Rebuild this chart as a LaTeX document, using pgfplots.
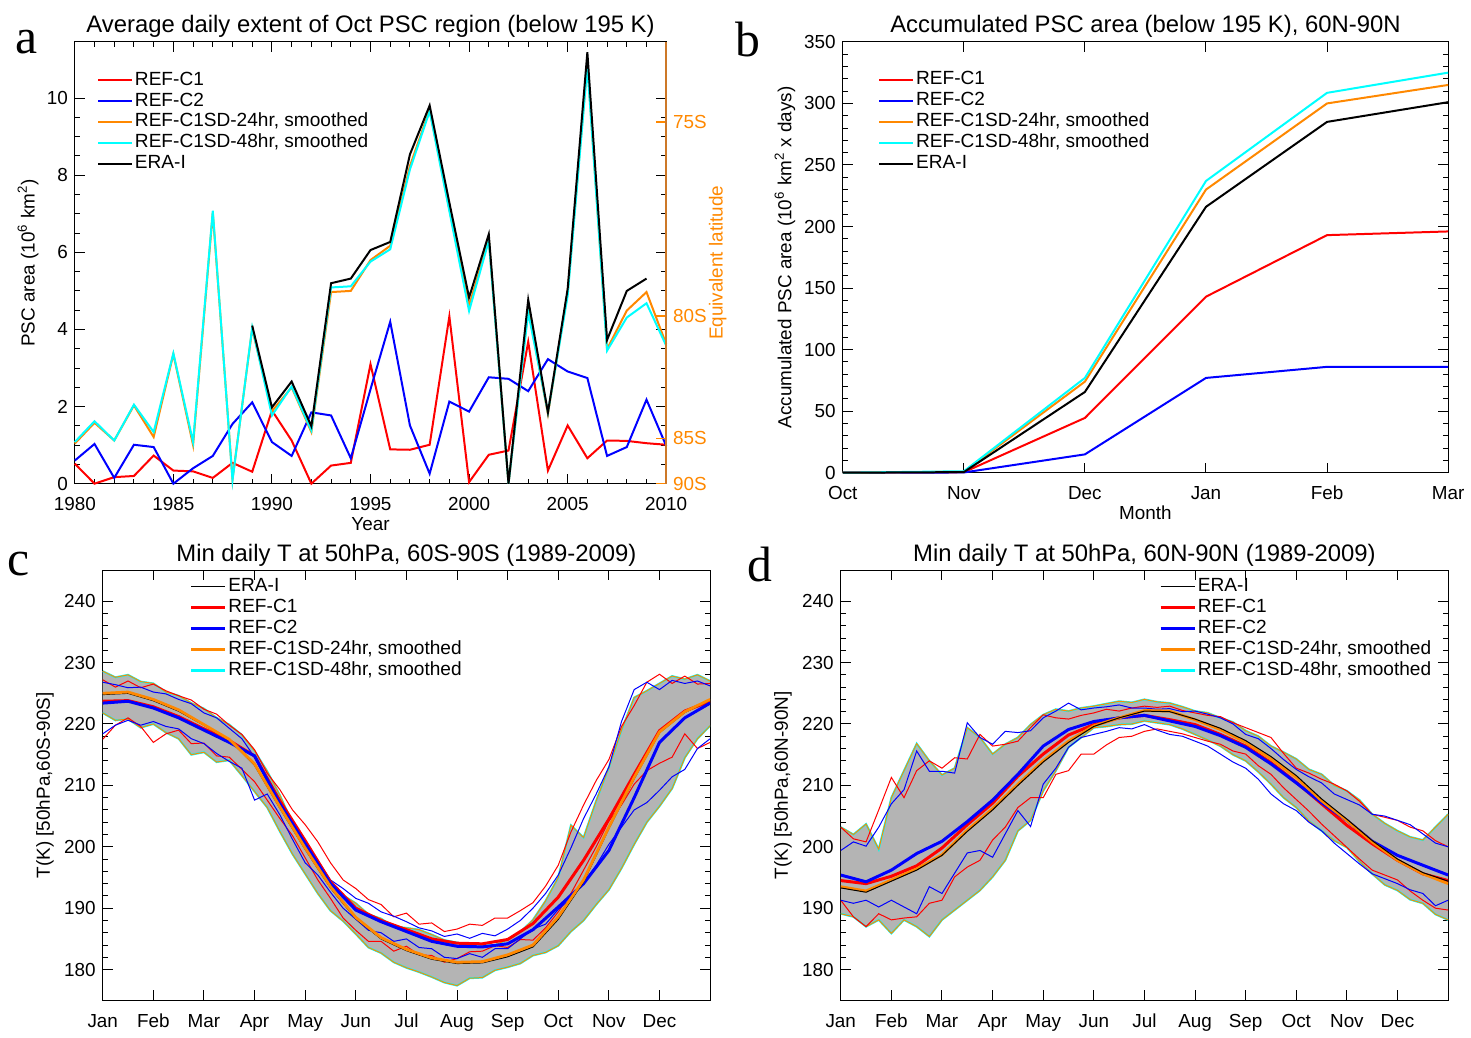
\documentclass[border=0pt]{standalone}
\usepackage{fontspec}
\setmainfont{Liberation Sans}
\newfontfamily\letterfont{Liberation Serif}
\usepackage{pgfplots}
\usepackage{pgfplotstable}
\pgfplotsset{compat=1.18}
\usepgfplotslibrary{fillbetween}

\definecolor{cred}{RGB}{255,0,0}
\definecolor{cblue}{RGB}{0,0,255}
\definecolor{corange}{RGB}{255,136,0}
\definecolor{ccyan}{RGB}{0,255,255}
\definecolor{cgray}{RGB}{180,180,180}
\definecolor{cspine}{RGB}{205,120,40}

\pgfplotstableread{
yr c1 c2 sd24 sd48 era
1980 0.52 0.60 1.04 1.08 nan
1981 0.00 1.03 1.58 1.62 nan
1982 0.17 0.15 1.12 1.12 nan
1983 0.20 1.01 2.03 2.05 nan
1984 0.73 0.95 1.21 1.34 nan
1985 0.34 0.00 3.36 3.38 nan
1986 0.32 0.40 1.00 1.08 nan
1987 0.15 0.72 7.03 7.08 nan
1988 0.54 1.55 0.12 0.09 nan
1989 0.31 2.11 4.02 4.05 4.10
1990 1.90 1.08 1.88 1.77 1.98
1991 1.12 0.72 2.50 2.52 2.65
1992 0.00 1.85 1.34 1.38 1.49
1993 0.47 1.77 4.97 5.09 5.20
1994 0.54 0.66 5.00 5.12 5.32
1995 3.10 2.45 5.80 5.76 6.06
1996 0.89 4.20 6.17 6.08 6.27
1997 0.88 1.51 8.24 8.15 8.54
1998 1.01 0.26 9.70 9.66 9.81
1999 4.34 2.13 7.12 7.07 7.29
2000 0.04 1.87 4.61 4.48 4.83
2001 0.75 2.76 6.34 6.30 6.47
2002 0.86 2.72 0.00 0.00 0.00
2003 3.68 2.40 4.53 4.44 4.77
2004 0.34 3.23 1.81 1.85 1.85
2005 1.51 2.91 4.97 4.87 5.05
2006 0.66 2.74 10.91 10.82 11.19
2007 1.12 0.72 3.49 3.45 3.73
2008 1.11 0.95 4.49 4.31 5.00
2009 1.05 2.18 4.97 4.68 5.32
2010 1.01 0.98 3.62 3.58 nan
}\aData

\pgfplotstableread{
m c1 c2 sd24 sd48 era
0 0 0 0 0 0
1 0.4 0.2 0.8 1.2 0.5
2 44.5 14.9 74 77 65.6
3 143 77 230 237 216
4 193 86 300 308.6 285
5 196 86 315 325 301
}\bData

\pgfplotstableread{
m sdU sdL rU rL bU bL
0 228.6 221.8 227.2 217.5 226.8 218.4
0.25 227.6 220.6 226.0 219.8 226.4 219.8
0.5 228.0 220.8 227.0 221.0 225.9 220.6
0.75 226.9 219.4 225.9 219.6 226.0 219.8
1 226.6 220.0 226.5 217.0 225.2 220.4
1.25 225.2 218.6 225.4 218.4 224.9 219.6
1.5 224.6 217.6 224.6 219.0 224.0 219.2
1.75 223.4 215.0 223.9 216.8 223.3 217.6
2 222.5 215.4 222.4 216.9 221.8 216.8
2.25 221.0 213.8 221.6 214.8 221.0 215.2
2.5 219.9 214.1 219.8 214.6 219.3 213.9
2.75 218.2 211.6 218.3 212.6 217.6 212.8
3 215.6 209.0 215.8 210.6 214.6 207.6
3.25 212.3 206.4 212.0 207.6 210.6 208.6
3.5 208.4 202.5 209.3 204.6 207.2 205.2
3.75 203.8 198.8 206.0 201.8 203.2 201.2
4 200.6 195.6 203.6 198.2 200.6 197.4
4.25 197.0 192.4 200.8 194.6 197.8 195.4
4.5 194.2 189.6 197.4 191.6 194.6 192.6
4.75 192.1 187.9 194.6 188.4 193.2 190.0
5 190.8 185.8 193.2 186.4 191.6 188.2
5.25 189.0 183.6 191.4 184.6 190.8 186.4
5.5 188.3 182.7 190.6 184.6 189.4 186.0
5.75 187.0 181.2 188.6 183.0 188.7 184.6
6 186.8 180.3 189.2 183.8 187.8 185.0
6.25 186.5 179.6 187.4 182.4 186.8 183.6
6.5 185.7 178.8 187.6 182.3 186.3 183.4
6.75 184.8 177.9 186.2 181.2 185.4 182.0
7 184.4 177.4 186.6 181.8 185.8 181.8
7.25 183.6 178.6 187.4 182.9 185.1 182.6
7.5 183.9 178.7 187.2 183.0 185.9 182.0
7.75 184.0 179.9 188.4 183.9 185.5 183.4
8 184.9 180.4 188.4 183.6 186.6 183.4
8.25 186.1 181.0 189.6 184.9 188.0 185.0
8.5 188.1 182.3 190.9 184.8 190.0 186.6
8.75 191.2 182.8 193.6 186.8 192.4 187.4
9 195.0 183.9 197.0 189.4 195.4 189.8
9.25 203.5 186.2 202.4 192.4 199.8 191.6
9.5 201.5 188.0 206.8 196.2 204.6 194.2
9.75 207.5 190.6 210.8 200.0 208.6 197.0
10 212.9 193.0 214.2 204.2 213.0 200.4
10.25 219.0 196.5 219.6 206.8 220.4 203.2
10.5 224.3 200.4 223.0 210.2 225.6 206.0
10.75 225.4 204.0 226.8 212.4 226.8 207.2
11 226.6 206.6 228.1 213.6 225.6 209.2
11.25 227.8 209.5 226.6 214.6 227.1 211.4
11.5 227.3 214.5 227.8 218.4 226.6 212.6
11.75 228.0 217.6 226.5 216.0 227.0 216.0
12 227.0 219.7 226.6 217.0 226.2 217.6
}\cEnv

\pgfplotstableread{
m sd era r b
0 225.0 224.8 223.7 223.4
0.5 225.2 225.0 223.8 223.7
1 224.0 223.8 222.8 222.6
1.5 222.3 222.1 221.2 221.0
2 219.9 219.8 219.2 219.0
2.5 217.5 217.4 217.3 217.0
3 213.5 213.3 214.8 214.8
3.5 206.5 206.3 207.5 207.0
4 199.8 199.6 201.0 200.5
4.5 193.5 193.3 194.3 194.0
5 188.5 188.3 190.0 189.7
5.5 185.2 185.0 188.0 187.8
6 183.3 183.1 186.5 186.2
6.5 181.9 181.7 185.0 184.6
7 181.2 181.0 184.3 183.8
7.5 181.3 181.1 184.2 183.7
8 182.4 182.1 184.9 184.2
8.5 184.0 183.7 187.5 186.5
9 188.6 188.2 191.8 190.2
9.5 194.6 194.3 197.8 194.0
10 203.2 203.0 204.5 199.4
10.5 211.3 211.1 211.8 208.0
11 218.7 218.6 218.9 217.0
11.5 222.0 221.9 222.1 221.0
12 224.0 223.9 223.7 223.4
}\cMean

\pgfplotstableread{
m sdU sdL rU rL bU bL
0 203.2 189.1 203.2 191.3 199.4 191.3
0.25 202.0 188.6 201.3 188.6 200.8 190.8
0.5 203.7 187.0 200.8 187.0 200.1 191.3
0.75 199.6 188.1 206.0 189.1 203.2 190.2
1 208.0 185.9 211.3 188.1 207.0 191.3
1.25 212.4 188.1 208.0 188.4 209.3 190.2
1.5 216.8 187.0 212.4 188.6 215.6 189.1
1.75 214.0 185.4 214.0 190.8 212.3 193.5
2 211.7 188.1 212.8 191.3 212.3 192.4
2.25 212.8 189.7 214.5 195.1 212.0 195.7
2.5 219.4 191.3 214.3 196.7 220.2 199.0
2.75 217.8 192.9 218.3 197.8 217.8 199.4
3 215.1 195.1 216.4 201.1 216.7 198.3
3.25 216.7 197.8 216.7 203.2 218.8 202.1
3.5 217.8 202.6 217.2 206.4 218.6 205.9
3.75 219.9 204.3 219.4 208.0 218.9 203.3
4 221.5 209.1 221.5 208.0 221.0 210.2
4.25 222.4 212.4 221.0 211.8 222.1 212.8
4.5 222.1 216.2 220.8 212.4 223.4 216.2
4.75 222.6 217.8 221.4 215.1 222.3 217.8
5 222.9 219.4 221.8 215.1 222.6 218.3
5.25 223.3 219.6 222.4 216.6 222.8 218.8
5.5 223.7 219.9 222.1 217.8 223.1 219.4
5.75 223.5 220.0 222.6 218.0 222.6 219.2
6 224.0 220.5 222.9 218.8 222.6 219.9
6.25 223.6 220.2 222.7 219.2 222.4 219.0
6.5 223.4 219.9 222.9 218.8 222.5 218.3
6.75 222.8 219.2 222.2 218.4 222.0 218.0
7 222.1 218.3 221.8 217.8 222.1 217.2
7.25 221.8 217.4 221.4 217.2 221.6 216.4
7.5 221.0 216.4 221.2 216.7 221.0 215.1
7.75 220.3 215.0 220.2 215.6 220.0 213.8
8 218.9 214.0 219.4 215.1 218.3 212.8
8.25 218.0 212.2 218.6 213.2 217.6 211.0
8.5 216.4 210.2 217.8 211.8 216.0 208.6
8.75 215.4 208.0 215.2 209.6 214.2 207.0
9 214.3 206.4 212.8 207.7 212.6 205.9
9.25 212.6 204.2 212.0 205.8 211.4 204.0
9.5 211.8 202.6 211.0 203.7 210.4 202.6
9.75 210.0 201.0 210.2 201.8 208.6 200.6
10 209.1 199.9 209.1 199.9 207.7 198.9
10.25 207.6 197.6 207.4 198.0 206.8 197.2
10.5 205.3 195.6 205.3 196.2 205.3 195.6
10.75 203.8 193.8 204.8 195.4 205.0 194.8
11 202.6 192.9 204.3 194.6 204.3 194.0
11.25 201.6 191.4 203.2 192.8 203.6 193.0
11.5 201.1 190.8 202.6 191.3 202.1 192.4
11.75 203.2 189.0 201.0 190.0 200.6 190.4
12 205.3 188.1 200.0 189.7 200.0 191.3
}\dEnv

\pgfplotstableread{
m sd era r b
0 193.5 193.3 194.5 195.4
0.5 192.8 192.6 194.0 194.3
1 194.6 194.4 195.2 196.2
1.5 196.4 196.2 196.9 198.9
2 198.7 198.6 199.8 200.9
2.5 202.7 202.5 203.6 204.1
3 206.2 206.0 207.1 207.6
3.5 210.2 210.0 211.5 211.8
4 214.0 213.8 215.1 216.4
4.5 217.2 217.0 218.2 219.1
5 219.7 219.6 219.9 220.4
5.5 221.0 221.0 221.0 221.0
6 222.2 222.1 221.4 221.4
6.5 222.1 222.0 220.7 220.5
7 220.7 220.8 219.9 219.6
7.5 219.1 219.3 218.3 218.1
8 217.0 217.3 216.4 216.2
8.5 214.3 214.7 213.7 213.5
9 211.3 211.6 210.5 210.4
9.5 207.5 207.8 207.0 207.2
10 204.3 204.5 203.5 204.3
10.5 200.8 201.0 200.5 200.9
11 197.8 198.0 197.8 198.6
11.5 195.6 195.8 195.6 197.0
12 194.0 194.4 194.5 195.4
}\dMean

\pgfplotsset{
  common/.style={
    scale only axis, anchor=south west,
    /pgf/number format/assume math mode=true,
    /pgf/number format/1000 sep={},
    tick label style={font=\fontsize{9.5}{11}\selectfont},
    xticklabel style={anchor=base, yshift=-13.5bp},
    label style={font=\fontsize{9.5}{11}\selectfont},
    every axis title/.style={at={(0.5,1)}, anchor=base, yshift=4.7bp, font=\fontsize{12}{14}\selectfont},
    xlabel style={at={(axis description cs:0.5,0)}, anchor=base, yshift=-23.5bp},
    tick align=inside,
    major tick length=5bp, minor tick length=2.5bp,
    tick style={black, line width=0.5bp},
    axis line style={line width=0.6bp},
    legend style={draw=none, fill=none, font=\fontsize{9.6}{10.5}\selectfont,
      anchor=north west, inner sep=0pt, row sep=0.5bp, column sep=1bp,
      nodes={inner sep=0pt, text height=7.5bp, text depth=2.5bp}},
    legend cell align=left,
  }
}

\begin{document}
\begin{tikzpicture}

% ---------------- panel a
\begin{axis}[common, clip=false, at={(37.5bp,274bp)}, width=296.5bp, height=221.5bp,
  xmin=1980, xmax=2010, ymin=0, ymax=11.46,
  xtick={1980,1985,...,2010}, minor x tick num=4,
  ytick={0,2,...,10}, minor y tick num=3,
  xlabel={Year},
  ylabel={PSC area (10\textsuperscript{6} km\textsuperscript{2})},
  ylabel style={at={(axis description cs:-0.079,0.5)}, anchor=center},
  title={Average daily extent of Oct PSC region (below 195 K)},
  legend style={at={(0.037,0.937)}}]
\addplot[cred, line width=1bp] table[x=yr,y=c1]{\aData};
\addlegendentry{REF-C1}
\addplot[cblue, line width=1bp] table[x=yr,y=c2]{\aData};
\addlegendentry{REF-C2}
\addplot[corange, line width=1bp] table[x=yr,y=sd24]{\aData};
\addlegendentry{REF-C1SD-24hr, smoothed}
\addplot[ccyan, line width=1bp] table[x=yr,y=sd48]{\aData};
\addlegendentry{REF-C1SD-48hr, smoothed}
\addplot[black, line width=1bp] table[x=yr,y=era]{\aData};
\addlegendentry{ERA-I}
\end{axis}
\begin{axis}[common, at={(37.5bp,274bp)}, width=296.5bp, height=221.5bp,
  xmin=1980, xmax=2010, ymin=0, ymax=11.46,
  axis x line=none, xtick=\empty,
  axis y line*=right,
  y axis line style={cspine, line width=0.8bp},
  ytick={0,1.18,4.35,9.38}, yticklabels={90S,85S,80S,75S},
  minor y tick num=0,
  ytick style={corange, line width=0.6bp},
  yticklabel style={corange},
  ylabel={Equivalent latitude},
  ylabel style={corange, at={(axis description cs:1.087,0.5)}, anchor=center}]
\addplot[draw=none, forget plot] table[x=yr,y=c1]{\aData};
\end{axis}

% ---------------- panel b
\begin{axis}[common, clip=false, at={(422.5bp,279.5bp)}, width=303.5bp, height=216bp,
  xmin=0, xmax=5, ymin=0, ymax=350,
  xtick={0,...,5}, xticklabels={Oct,Nov,Dec,Jan,Feb,Mar},
  ytick={0,50,...,350}, minor y tick num=4,
  xlabel={Month},
  ylabel={Accumulated PSC area (10\textsuperscript{6} km\textsuperscript{2} x days)},
  ylabel style={at={(axis description cs:-0.0955,0.5)}, anchor=center},
  title={Accumulated PSC area (below 195 K), 60N-90N},
  legend style={at={(0.058,0.936)}}]
\addplot[cred, line width=1bp] table[x=m,y=c1]{\bData};
\addlegendentry{REF-C1}
\addplot[cblue, line width=1bp] table[x=m,y=c2]{\bData};
\addlegendentry{REF-C2}
\addplot[corange, line width=1bp] table[x=m,y=sd24]{\bData};
\addlegendentry{REF-C1SD-24hr, smoothed}
\addplot[ccyan, line width=1bp] table[x=m,y=sd48]{\bData};
\addlegendentry{REF-C1SD-48hr, smoothed}
\addplot[black, line width=1bp] table[x=m,y=era]{\bData};
\addlegendentry{ERA-I}
\end{axis}

% ---------------- panel c
\begin{axis}[common, at={(51.5bp,15bp)}, width=304.5bp, height=215.5bp,
  xmin=0, xmax=12, ymin=175, ymax=245,
  xtick={0,...,11}, xticklabels={Jan,Feb,Mar,Apr,May,Jun,Jul,Aug,Sep,Oct,Nov,Dec},
  ytick={180,190,...,240}, minor y tick num=4,
  ylabel={T(K) [50hPa,60S-90S]},
  ylabel style={at={(axis description cs:-0.095,0.5)}, anchor=center},
  title={Min daily T at 50hPa, 60S-90S (1989-2009)},
  legend style={at={(0.143,0.9865)}}]
\addplot[draw=none, name path=cU, forget plot] table[x=m,y=sdU]{\cEnv};
\addplot[draw=none, name path=cL, forget plot] table[x=m,y=sdL]{\cEnv};
\addplot[cgray, forget plot] fill between[of=cU and cL];
\addplot[ccyan, line width=1bp, forget plot] table[x=m,y=sdU]{\cEnv};
\addplot[ccyan, line width=1bp, forget plot] table[x=m,y=sdL]{\cEnv};
\addplot[corange, line width=0.5bp, forget plot] table[x=m,y=sdU]{\cEnv};
\addplot[corange, line width=0.5bp, forget plot] table[x=m,y=sdL]{\cEnv};
\addplot[cred, line width=0.5bp, forget plot] table[x=m,y=rU]{\cEnv};
\addplot[cred, line width=0.5bp, forget plot] table[x=m,y=rL]{\cEnv};
\addplot[cblue, line width=0.5bp, forget plot] table[x=m,y=bU]{\cEnv};
\addplot[cblue, line width=0.5bp, forget plot] table[x=m,y=bL]{\cEnv};
\addplot[cred, line width=1.5bp, forget plot] table[x=m,y=r]{\cMean};
\addplot[cblue, line width=1.5bp, forget plot] table[x=m,y=b]{\cMean};
\addplot[black, line width=0.6bp, forget plot] table[x=m,y=era]{\cMean};
\addplot[corange, line width=1.4bp, forget plot] table[x=m,y=sd]{\cMean};
\addlegendimage{black, line width=0.8bp}\addlegendentry{ERA-I}
\addlegendimage{cred, line width=1.3bp}\addlegendentry{REF-C1}
\addlegendimage{cblue, line width=1.3bp}\addlegendentry{REF-C2}
\addlegendimage{corange, line width=1.3bp}\addlegendentry{REF-C1SD-24hr, smoothed}
\addlegendimage{ccyan, line width=1.3bp}\addlegendentry{REF-C1SD-48hr, smoothed}
\end{axis}

% ---------------- panel d
\begin{axis}[common, at={(421.5bp,15bp)}, width=304.5bp, height=215.5bp,
  xmin=0, xmax=12, ymin=175, ymax=245,
  xtick={0,...,11}, xticklabels={Jan,Feb,Mar,Apr,May,Jun,Jul,Aug,Sep,Oct,Nov,Dec},
  ytick={180,190,...,240}, minor y tick num=4,
  ylabel={T(K) [50hPa,60N-90N]},
  ylabel style={at={(axis description cs:-0.095,0.5)}, anchor=center},
  title={Min daily T at 50hPa, 60N-90N (1989-2009)},
  legend style={at={(0.524,0.9865)}}]
\addplot[draw=none, name path=dU, forget plot] table[x=m,y=sdU]{\dEnv};
\addplot[draw=none, name path=dL, forget plot] table[x=m,y=sdL]{\dEnv};
\addplot[cgray, forget plot] fill between[of=dU and dL];
\addplot[ccyan, line width=1bp, forget plot] table[x=m,y=sdU]{\dEnv};
\addplot[ccyan, line width=1bp, forget plot] table[x=m,y=sdL]{\dEnv};
\addplot[corange, line width=0.5bp, forget plot] table[x=m,y=sdU]{\dEnv};
\addplot[corange, line width=0.5bp, forget plot] table[x=m,y=sdL]{\dEnv};
\addplot[cred, line width=0.5bp, forget plot] table[x=m,y=rU]{\dEnv};
\addplot[cred, line width=0.5bp, forget plot] table[x=m,y=rL]{\dEnv};
\addplot[cblue, line width=0.5bp, forget plot] table[x=m,y=bU]{\dEnv};
\addplot[cblue, line width=0.5bp, forget plot] table[x=m,y=bL]{\dEnv};
\addplot[cred, line width=1.5bp, forget plot] table[x=m,y=r]{\dMean};
\addplot[cblue, line width=1.5bp, forget plot] table[x=m,y=b]{\dMean};
\addplot[corange, line width=1.4bp, forget plot] table[x=m,y=sd]{\dMean};
\addplot[black, line width=0.5bp, forget plot] table[x=m,y=era]{\dMean};
\addlegendimage{black, line width=0.8bp}\addlegendentry{ERA-I}
\addlegendimage{cred, line width=1.3bp}\addlegendentry{REF-C1}
\addlegendimage{cblue, line width=1.3bp}\addlegendentry{REF-C2}
\addlegendimage{corange, line width=1.3bp}\addlegendentry{REF-C1SD-24hr, smoothed}
\addlegendimage{ccyan, line width=1.3bp}\addlegendentry{REF-C1SD-48hr, smoothed}
\end{axis}

\node[font=\letterfont\fontsize{25}{25}\selectfont] at (13.5bp,495.5bp) {a};
\node[font=\letterfont\fontsize{25}{25}\selectfont] at (375bp,496.5bp) {b};
\node[font=\letterfont\fontsize{25}{25}\selectfont] at (9.5bp,233.5bp) {c};
\node[font=\letterfont\fontsize{25}{25}\selectfont] at (381bp,233.5bp) {d};
\useasboundingbox (0,0) rectangle (735.5bp,516.5bp);
\end{tikzpicture}
\end{document}
